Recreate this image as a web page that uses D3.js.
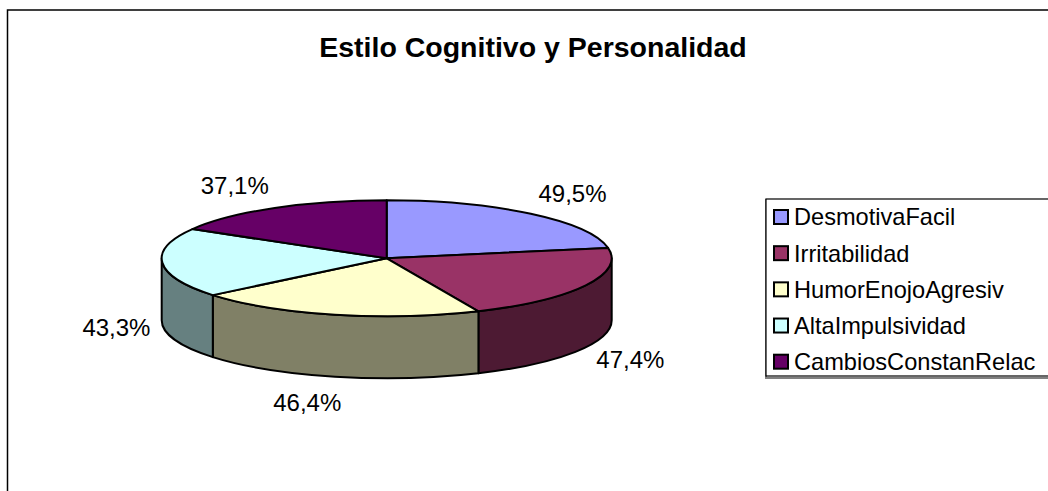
<!DOCTYPE html>
<html>
<head>
<meta charset="utf-8">
<script src="https://cdn.jsdelivr.net/npm/d3@7"></script>
<style>
html,body{margin:0;padding:0;background:#fff;}
svg{display:block;}
text{font-family:"Liberation Sans",Arial,sans-serif;fill:#000;}
</style>
</head>
<body>
<svg id="chart" width="1048" height="491"></svg>
<script>
const title = "Estilo Cognitivo y Personalidad";
const categories = ["DesmotivaFacil","Irritabilidad","HumorEnojoAgresiv","AltaImpulsividad","CambiosConstanRelac"];
const values = [49.5, 47.4, 46.4, 43.3, 37.1];
const colors = ["#9999FF","#993366","#FFFFCC","#CCFFFF","#660066"];

const W = 1048, H = 491;
const svg = d3.select("#chart");

// chart area frame
svg.append("rect").attr("x",7.5).attr("y",10).attr("width",1060).attr("height",500)
  .attr("fill","#fff").attr("stroke","#000").attr("stroke-width",1.5);

svg.append("text").attr("x",533).attr("y",57).attr("text-anchor","middle")
  .style("font-size","28.5px").style("font-weight","bold").text(title);

const cx = 386.7, cy = 258.3, rx = 225, ry = 58, depth = 62;
const color = d3.scaleOrdinal().domain(categories).range(colors);
const side = c => { const k = d3.rgb(c); return d3.rgb(k.r*0.5, k.g*0.5, k.b*0.5).formatHex(); };

const pie = d3.pie().sort(null).value(d => d.v);
const arcs = pie(categories.map((c,i)=>({c, v: values[i]})));

const px = a => cx + rx*Math.sin(a);
const py = a => cy - ry*Math.cos(a);

const g = svg.append("g");
// side walls (front half only)
arcs.forEach(d => {
  const b0 = Math.max(d.startAngle, Math.PI/2), b1 = Math.min(d.endAngle, 3*Math.PI/2);
  if (b1 <= b0) return;
  const s = `M${px(b0)},${py(b0)} A${rx},${ry} 0 0 1 ${px(b1)},${py(b1)} L${px(b1)},${py(b1)+depth} A${rx},${ry} 0 0 0 ${px(b0)},${py(b0)+depth} Z`;
  g.append("path").attr("d", s).attr("fill", side(color(d.data.c)))
   .attr("stroke","#000").attr("stroke-width",2).attr("stroke-linejoin","round");
});
// top faces
arcs.forEach(d => {
  const a0 = d.startAngle, a1 = d.endAngle;
  const large = (a1 - a0) > Math.PI ? 1 : 0;
  const s = `M${cx},${cy} L${px(a0)},${py(a0)} A${rx},${ry} 0 ${large} 1 ${px(a1)},${py(a1)} Z`;
  g.append("path").attr("d", s).attr("fill", color(d.data.c))
   .attr("stroke","#000").attr("stroke-width",2).attr("stroke-linejoin","round");
});

// labels
const loc = d3.formatLocale({decimal: ",", thousands: ".", grouping: [3], currency: ["", "€"]});
const fmt = loc.format(".1f");
const lfs = 24, hw = 34, gx = 12, ly = 84.6;
arcs.forEach(d => {
  const m = (d.startAngle + d.endAngle)/2;
  const s = Math.sin(m), c = Math.cos(m);
  const x = cx + s*(rx+gx) + Math.sign(s)*hw*Math.min(1, 3.2*Math.abs(s));
  const y = cy - c*ly + (c < 0 ? depth : 0);
  svg.append("text").attr("x", x).attr("y", y + 0.358*lfs).attr("text-anchor","middle")
    .style("font-size", lfs+"px").text(fmt(d.data.v) + "%");
});

// legend
const lg = svg.append("g");
lg.append("rect").attr("x",766).attr("y",200).attr("width",400).attr("height",178)
  .attr("fill","none").attr("stroke","#808080").attr("stroke-width",2);
lg.append("rect").attr("x",766).attr("y",199).attr("width",400).attr("height",177)
  .attr("fill","#fff").attr("stroke","#000").attr("stroke-width",1.2);
const ly0 = d3.scalePoint().domain(categories).range([217, 361.7]);
const lfs2 = 23.6;
categories.forEach(c => {
  const yc = ly0(c);
  lg.append("rect").attr("x",774).attr("y",yc-7).attr("width",14).attr("height",14)
    .attr("fill",color(c)).attr("stroke","#000").attr("stroke-width",2);
  lg.append("text").attr("x",794).attr("y",yc+0.358*lfs2).style("font-size",lfs2+"px").text(c);
});
</script>
</body>
</html>
